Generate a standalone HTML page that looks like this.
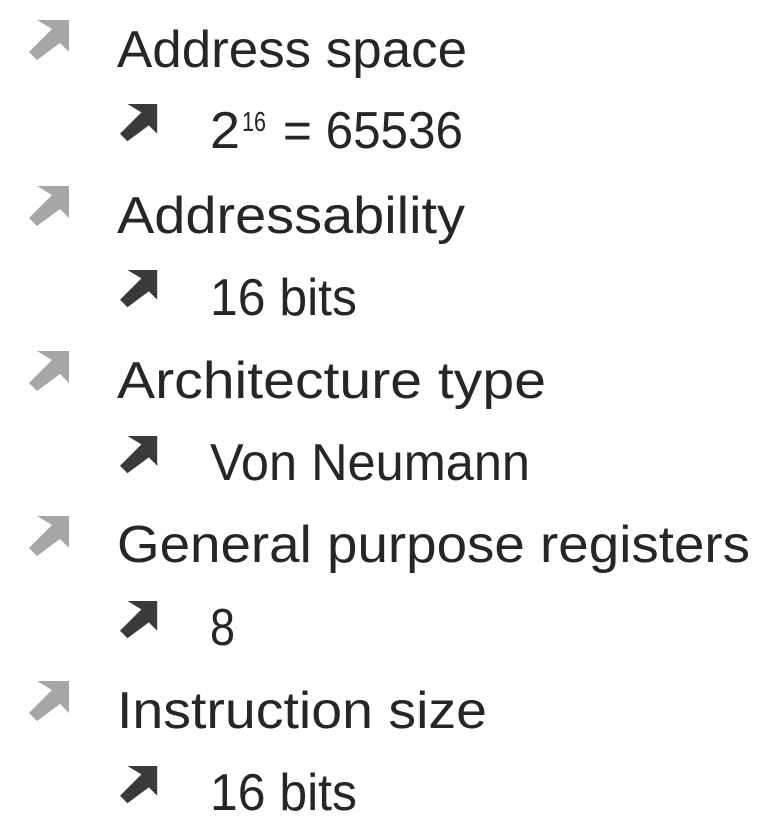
<!DOCTYPE html>
<html><head><meta charset="utf-8"><style>
html,body{margin:0;padding:0;background:#fff;}
svg{display:block}
text{font-family:"Liberation Sans",sans-serif;fill:#262626;font-size:52px;}
</style></head><body>
<svg width="768" height="836" viewBox="0 0 768 836" xmlns="http://www.w3.org/2000/svg">
<defs>
<polygon id="ar" points="8,0 40,0 40,32 31,23 8,40 0,32 23,9"/>
</defs>
<g fill="#a6a6a6">
<use href="#ar" x="29" y="20"/>
<use href="#ar" x="29" y="186"/>
<use href="#ar" x="29" y="351"/>
<use href="#ar" x="29" y="516"/>
<use href="#ar" x="29" y="681"/>
</g>
<g fill="#3a3a3a">
<use href="#ar" x="0" y="0" transform="translate(120,104) scale(0.93)"/>
<use href="#ar" x="0" y="0" transform="translate(120,270) scale(0.93)"/>
<use href="#ar" x="0" y="0" transform="translate(120,436) scale(0.93)"/>
<use href="#ar" x="0" y="0" transform="translate(120,601) scale(0.93)"/>
<use href="#ar" x="0" y="0" transform="translate(120,766) scale(0.93)"/>
</g>
<text x="117" y="67" textLength="350" lengthAdjust="spacingAndGlyphs">Address space</text>
<text x="210" y="148" textLength="30" lengthAdjust="spacingAndGlyphs">2</text>
<text x="242" y="131" style="font-size:28px" textLength="24" lengthAdjust="spacingAndGlyphs">16</text>
<text x="283" y="148" textLength="180" lengthAdjust="spacingAndGlyphs">= 65536</text>
<text x="117" y="233" textLength="348" lengthAdjust="spacingAndGlyphs">Addressability</text>
<text x="210" y="315" textLength="147" lengthAdjust="spacingAndGlyphs">16 bits</text>
<text x="117" y="398" textLength="429" lengthAdjust="spacingAndGlyphs">Architecture type</text>
<text x="210" y="480" textLength="320" lengthAdjust="spacingAndGlyphs">Von Neumann</text>
<text x="117" y="562" textLength="633" lengthAdjust="spacingAndGlyphs">General purpose registers</text>
<text x="210" y="645" textLength="25" lengthAdjust="spacingAndGlyphs">8</text>
<text x="117" y="728" textLength="370" lengthAdjust="spacingAndGlyphs">Instruction size</text>
<text x="210" y="810" textLength="147" lengthAdjust="spacingAndGlyphs">16 bits</text>
</svg>
</body></html>
